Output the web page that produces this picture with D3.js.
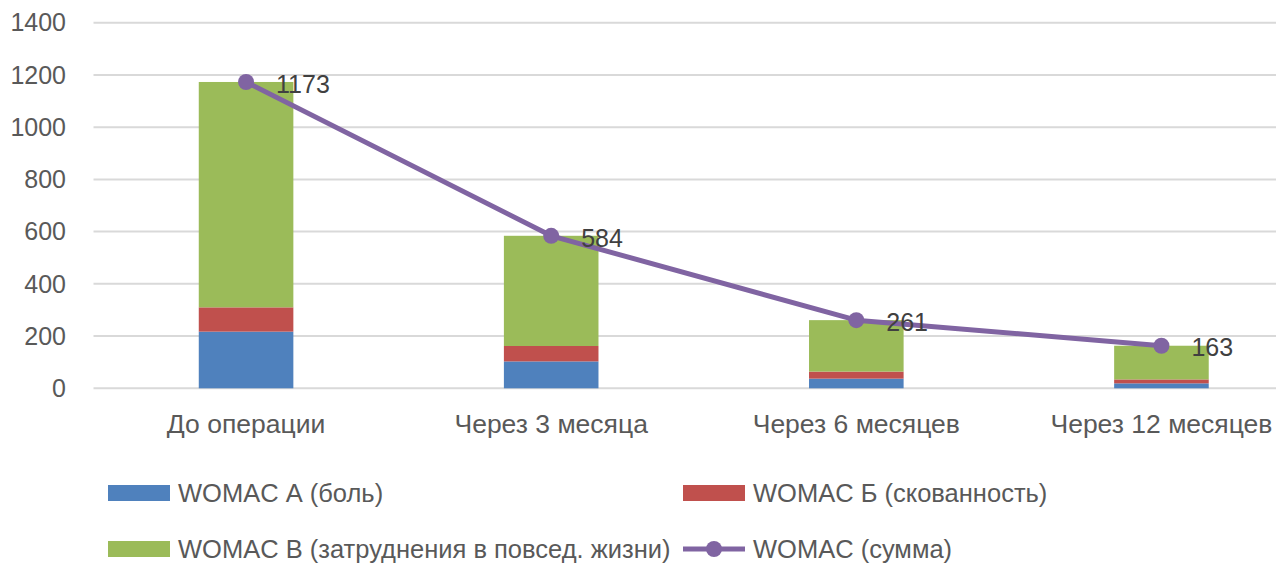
<!DOCTYPE html>
<html>
<head>
<meta charset="utf-8">
<script src="https://cdn.jsdelivr.net/npm/d3@7"></script>
<style>
    body { margin: 0; background: #fff; }
    text { font-family: "Liberation Sans", Arial, sans-serif; fill: #595959; }
</style>
</head>
<body>
<div id="chart"></div>
<script>
const categories = ["До операции", "Через 3 месяца", "Через 6 месяцев", "Через 12 месяцев"];
const womacA = [217, 103, 37, 19];
const womacB = [93, 59, 27, 15];
const womacV = [863, 422, 197, 129];
const womacSum = [1173, 584, 261, 163];
const yTicks = [0, 200, 400, 600, 800, 1000, 1200, 1400];

const seriesNames = ["WOMAC А (боль)", "WOMAC Б (скованность)", "WOMAC В (затруднения в повсед. жизни)", "WOMAC (сумма)"];
const colors = ["#4F81BD", "#C0504D", "#9BBB59", "#8064A2"];

const width = 1276;
const height = 564;

const svg = d3.select("#chart").append("svg")
    .attr("width", width)
    .attr("height", height);

const x = d3.scaleBand()
    .domain(categories)
    .range([93.5, 1314])
    .paddingInner(0.69)
    .paddingOuter(0.345);

const y = d3.scaleLinear()
    .domain([0, 1400])
    .range([388.3, 22.7]);

// grid
svg.append("g")
    .selectAll("line")
    .data(yTicks)
    .join("line")
    .attr("x1", 93.5)
    .attr("x2", width)
    .attr("y1", d => y(d))
    .attr("y2", d => y(d))
    .attr("stroke", "#D9D9D9")
    .attr("stroke-width", 2);

// y axis labels
svg.append("g")
    .selectAll("text")
    .data(yTicks)
    .join("text")
    .attr("x", 66)
    .attr("y", d => y(d))
    .attr("dy", "0.35em")
    .attr("text-anchor", "end")
    .attr("font-size", "25px")
    .text(d => d);

// stacked bars
const rows = categories.map((c, i) => ({ cat: c, a: womacA[i], b: womacB[i], v: womacV[i] }));
const stack = d3.stack().keys(["a", "b", "v"])(rows);

svg.append("g")
    .selectAll("g")
    .data(stack)
    .join("g")
    .attr("fill", (d, i) => colors[i])
    .selectAll("rect")
    .data(d => d)
    .join("rect")
    .attr("x", d => x(d.data.cat))
    .attr("width", x.bandwidth())
    .attr("y", d => y(d[1]))
    .attr("height", d => y(d[0]) - y(d[1]));

// category labels
svg.append("g")
    .selectAll("text")
    .data(categories)
    .join("text")
    .attr("x", d => x(d) + x.bandwidth() / 2)
    .attr("y", 424)
    .attr("dy", "0.35em")
    .attr("text-anchor", "middle")
    .attr("font-size", "26.5px")
    .text(d => d);

// sum line
const cx = i => x(categories[i]) + x.bandwidth() / 2;
const line = d3.line()
    .x((d, i) => cx(i))
    .y(d => y(d));

svg.append("path")
    .datum(womacSum)
    .attr("d", line)
    .attr("fill", "none")
    .attr("stroke", colors[3])
    .attr("stroke-width", 5)
    .attr("stroke-linejoin", "round");

svg.append("g")
    .selectAll("circle")
    .data(womacSum)
    .join("circle")
    .attr("cx", (d, i) => cx(i))
    .attr("cy", d => y(d))
    .attr("r", 8)
    .attr("fill", colors[3]);

svg.append("g")
    .selectAll("text")
    .data(womacSum)
    .join("text")
    .attr("x", (d, i) => cx(i) + 30)
    .attr("y", d => y(d) + 2)
    .attr("dy", "0.35em")
    .attr("font-size", "25px")
    .style("fill", "#404040")
    .text(d => d);

// legend
const legendItems = [
    { x: 108, y: 493, i: 0 },
    { x: 683, y: 493, i: 1 },
    { x: 108, y: 549, i: 2 },
    { x: 683, y: 549, i: 3 }
];

const lg = svg.append("g")
    .selectAll("g")
    .data(legendItems)
    .join("g")
    .attr("transform", d => `translate(${d.x},${d.y})`);

lg.filter(d => d.i < 3).append("rect")
    .attr("x", 0)
    .attr("y", -8)
    .attr("width", 62)
    .attr("height", 16)
    .attr("fill", d => colors[d.i]);

const sumItem = lg.filter(d => d.i === 3);
sumItem.append("line")
    .attr("x1", 0).attr("x2", 62)
    .attr("y1", 0).attr("y2", 0)
    .attr("stroke", colors[3])
    .attr("stroke-width", 5);
sumItem.append("circle")
    .attr("cx", 31).attr("cy", 0).attr("r", 8)
    .attr("fill", colors[3]);

lg.append("text")
    .attr("x", 70)
    .attr("y", 0)
    .attr("dy", "0.35em")
    .attr("font-size", "25.5px")
    .text(d => seriesNames[d.i]);
</script>
</body>
</html>
